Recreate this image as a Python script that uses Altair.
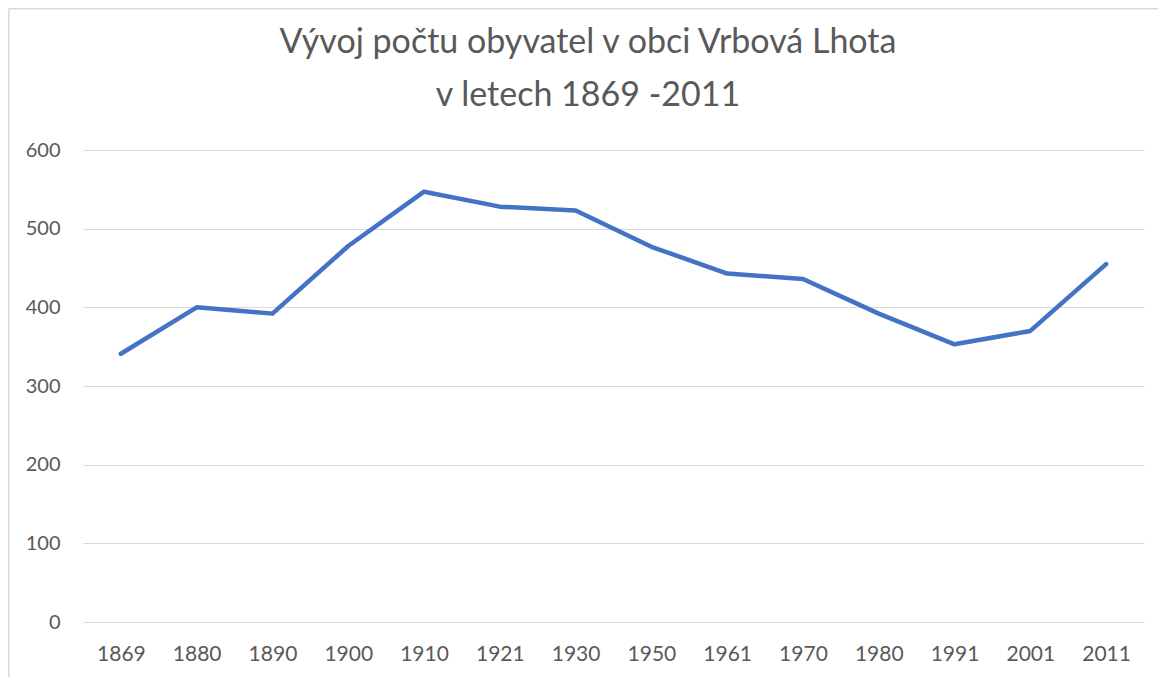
import altair as alt
import pandas as pd

years = ["1869", "1880", "1890", "1900", "1910", "1921", "1930", "1950",
         "1961", "1970", "1980", "1991", "2001", "2011"]
population = [341, 400, 392, 478, 547, 528, 523, 477, 443, 436, 392, 353, 370, 455]
y_ticks = [0, 100, 200, 300, 400, 500, 600]
title_lines = ["Vývoj počtu obyvatel v obci Vrbová Lhota", "v letech 1869 -2011"]

df = pd.DataFrame({"rok": years, "obyvatel": population})
title_df = pd.DataFrame({"text": title_lines, "line": [0, 1]})

FONT = "Lato"
GRAY = "#595959"
one = pd.DataFrame({"k": [0]})

border_left = alt.Chart(one).mark_rule(
    color="#d9d9d9", strokeWidth=1.5, clip=False
).encode(x=alt.value(-74.2), y=alt.value(-141.3), y2=alt.value(530))

border_top = alt.Chart(one).mark_rule(
    color="#d9d9d9", strokeWidth=1.5, clip=False
).encode(x=alt.value(-74.2), x2=alt.value(1090), y=alt.value(-141.3))

title1 = alt.Chart(title_df).transform_filter("datum.line == 0").mark_text(
    font=FONT, fontSize=34, color=GRAY, baseline="alphabetic", align="center",
    clip=False
).encode(text="text:N", x=alt.value(505), y=alt.value(-97))

title2 = alt.Chart(title_df).transform_filter("datum.line == 1").mark_text(
    font=FONT, fontSize=34, color=GRAY, baseline="alphabetic", align="center",
    clip=False
).encode(text="text:N", x=alt.value(505), y=alt.value(-44))

line = alt.Chart(df).mark_line(
    color="#4472C4", strokeWidth=4.5, strokeCap="round", strokeJoin="round"
).encode(
    x=alt.X("rok:N", sort=years, title=None,
            scale=alt.Scale(paddingInner=0, paddingOuter=0.5),
            axis=alt.Axis(labelAngle=0, labelFont=FONT, labelFontSize=21,
                          labelColor=GRAY, labelPadding=21, ticks=False,
                          domain=False, grid=False)),
    y=alt.Y("obyvatel:Q", title=None,
            scale=alt.Scale(domain=[0, 600], nice=False),
            axis=alt.Axis(values=y_ticks, labelFont=FONT, labelFontSize=20,
                          labelColor=GRAY, labelPadding=23, ticks=False,
                          domain=False, grid=True, gridColor="#d9d9d9",
                          gridWidth=1.2)),
)

chart = alt.layer(border_left, border_top, title1, title2, line).properties(
    width=1061, height=472,
    background="white",
    autosize=alt.AutoSizeParams(type="none"),
    padding={"left": 75, "top": 142, "right": 14, "bottom": 55},
).configure_view(strokeWidth=0, stroke="transparent")

chart.save("out.html", embed_options={"renderer": "svg", "actions": False})
